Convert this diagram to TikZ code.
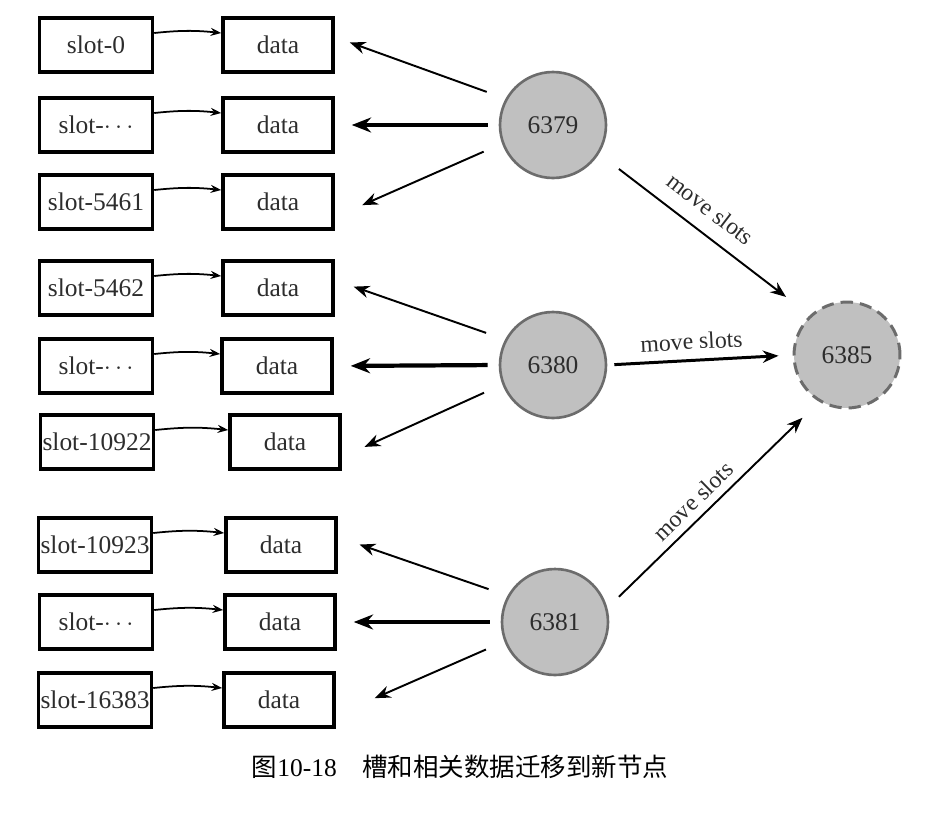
\documentclass[tikz,border=0pt]{standalone}
\usepackage{fontspec}
\setmainfont{Liberation Serif}
\newfontfamily\cjk{Noto Sans CJK SC}
\usepackage{xcolor}
\definecolor{nodegray}{RGB}{192, 192, 192}
\definecolor{rimgray}{RGB}{108, 108, 108}
\definecolor{inkgray}{RGB}{45, 45, 45}
\usepackage{tikz}
\usetikzlibrary{arrows.meta, positioning}

\tikzset{
  slotbox/.style={draw, line width=2pt, minimum width=2.26cm, minimum height=1.08cm,
    inner sep=1pt, text=inkgray, font=\fontsize{14.5}{17}\selectfont},
  databox/.style={slotbox, minimum width=2.2cm},
  server/.style={circle, draw=rimgray, fill=nodegray, line width=1.5pt, minimum size=2.12cm,
    text=inkgray, font=\fontsize{14.5}{17}\selectfont},
  newserver/.style={server, line width=1.7pt, dash pattern=on 7pt off 4pt},
  linkarrow/.style={-{Stealth[length=6pt, width=4.5pt]}, line width=1pt, bend left=6},
  sendarrow/.style={-{Stealth[length=9pt, width=7pt]}, line width=1.1pt, shorten <=0.4cm},
  mainarrow/.style={-{Stealth[length=11pt, width=8.5pt]}, line width=2.4pt,
    shorten <=0.22cm, shorten >=0.34cm},
  movelabel/.style={midway, pos=0.46, sloped, text=inkgray, font=\fontsize{13.5}{16}\selectfont}
}

\begin{document}
\begin{tikzpicture}[x=0.02cm, y=-0.02cm]
    \useasboundingbox (0,0) rectangle (950,822);

    % slots and their data
    \node[slotbox] (s1) at (96,45)  {slot-0};
    \node[slotbox] (s2) at (96,125) {slot-$\cdots$};
    \node[slotbox] (s3) at (96,202) {slot-5461};
    \node[slotbox] (s4) at (96,288) {slot-5462};
    \node[slotbox] (s5) at (96,366) {slot-$\cdots$};
    \node[slotbox] (s6) at (97,442) {slot-10922};
    \node[slotbox] (s7) at (95,545) {slot-10923};
    \node[slotbox] (s8) at (96,622) {slot-$\cdots$};
    \node[slotbox] (s9) at (95,700) {slot-16383};

    \node[databox] (d1) at (278,45)  {data};
    \node[databox] (d2) at (278,125) {data};
    \node[databox] (d3) at (278,202) {data};
    \node[databox] (d4) at (278,288) {data};
    \node[databox] (d5) at (277,366) {data};
    \node[databox] (d6) at (285,442) {data};
    \node[databox] (d7) at (281,545) {data};
    \node[databox] (d8) at (280,622) {data};
    \node[databox] (d9) at (279,700) {data};

    \foreach \i in {1,...,9}
        \draw[linkarrow] ([yshift=0.24cm]s\i.east) to ([yshift=0.24cm]d\i.west);

    % nodes of the cluster
    \node[server] (c1) at (553,125) {6379};
    \node[server] (c2) at (553,365) {6380};
    \node[server] (c3) at (555,622) {6381};
    \node[newserver] (c4) at (847,355) {6385};

    \draw[sendarrow, shorten >=0.32cm] (c1.151) -- (d1.8);
    \draw[mainarrow] (c1.west) -- (d2.east);
    \draw[sendarrow, shorten >=0.6cm] (c1.200) -- (d3.-15);

    \draw[sendarrow, shorten >=0.4cm] (c2.152) -- (d4.8);
    \draw[mainarrow] (c2.west) -- (d5.east);
    \draw[sendarrow, shorten >=0.5cm] (c2.201) -- (d6.-15);

    \draw[sendarrow, shorten >=0.46cm] (c3.151) -- (d7.8);
    \draw[mainarrow] (c3.west) -- (d8.east);
    \draw[sendarrow, shorten >=0.85cm] (c3.201) -- (d9.-15);

    % slots moving to the new node
    \draw[sendarrow, shorten <=0.5cm, shorten >=0.6cm] (c1.-32) -- (c4.133)
        node[movelabel, above=5pt] {move slots};
    \draw[sendarrow, line width=1.7pt, shorten <=0.14cm, shorten >=0.28cm] (c2.east) -- (c4.west)
        node[movelabel, above=2pt] {move slots};
    \draw[sendarrow, shorten <=0.32cm, shorten >=0.46cm] (c3.15) -- (c4.239)
        node[movelabel, above=1pt] {move slots};

    \node[font=\fontsize{14.5}{17}\selectfont] (caption) at (460,767)
        {{\cjk 图}10-18\hspace{1em}{\cjk 槽和相关数据迁移到新节点}};
\end{tikzpicture}
\end{document}
